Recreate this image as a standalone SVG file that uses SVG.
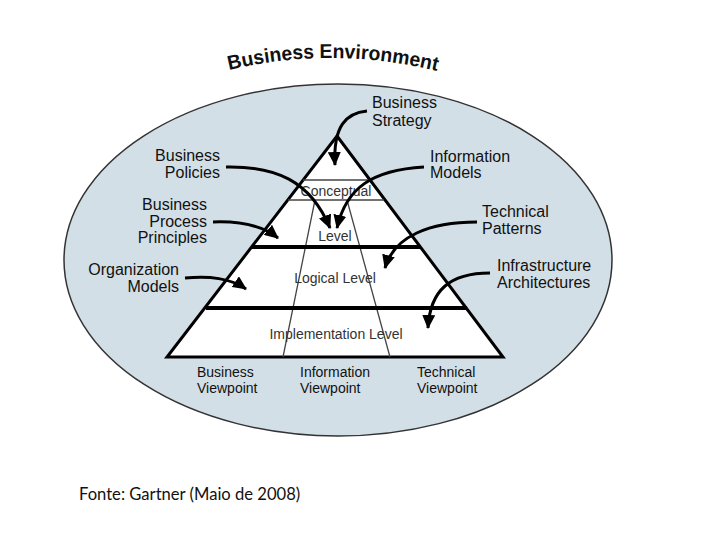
<svg xmlns="http://www.w3.org/2000/svg" width="720" height="540" viewBox="0 0 720 540">
<defs>
<style>
.lbl{font-family:"Liberation Sans",Arial,sans-serif;font-size:16px;fill:#111}
.lvl{font-family:"Liberation Sans",Arial,sans-serif;font-size:14px;fill:#333}
.vp{font-family:"Liberation Sans",Arial,sans-serif;font-size:14px;fill:#111}
.arr{fill:none;stroke:#000;stroke-width:3;marker-end:url(#ah)}
.thin{stroke:#444;stroke-width:1.3;fill:none}
.thick{stroke:#000;stroke-width:4;fill:none}
</style>
<marker id="ah" markerUnits="userSpaceOnUse" markerWidth="15" markerHeight="13" refX="13" refY="6.5" orient="auto">
<path d="M0,0 L14,6.5 L0,13 Z" fill="#000"/>
</marker>
<path id="arc" d="M 229,70 Q 333,45 441,72"/>
</defs>
<rect width="720" height="540" fill="#fff"/>
<g id="environment">
<ellipse cx="338" cy="260" rx="274" ry="176" fill="#d3dfe6" stroke="#333" stroke-width="1.5"/>
<text font-family="'Liberation Sans',Arial,sans-serif" font-size="20" font-weight="bold" fill="#111" textLength="210" lengthAdjust="spacingAndGlyphs"><textPath href="#arc">Business Environment</textPath></text>
</g>
<g id="pyramid">
<path d="M337,136 L503,357 L167,357 Z" fill="#fff" stroke="#000" stroke-width="3" stroke-linejoin="miter"/>
<line class="thin" x1="303" y1="180" x2="369" y2="180"/>
<line class="thin" x1="288" y1="200" x2="384" y2="200"/>
<line class="thin" x1="315" y1="200" x2="283" y2="357"/>
<line class="thin" x1="347" y1="200" x2="390" y2="357"/>
<line class="thick" x1="252" y1="247" x2="421" y2="247"/>
<line class="thick" x1="206" y1="308" x2="467" y2="308"/>
<text class="lvl" x="336" y="196" text-anchor="middle">Conceptual</text>
<text class="lvl" x="335" y="241" text-anchor="middle">Level</text>
<text class="lvl" x="335" y="283" text-anchor="middle">Logical Level</text>
<text class="lvl" x="336" y="339" text-anchor="middle">Implementation Level</text>
</g>
<g id="viewpoints">
<text class="vp" x="197" y="377">Business</text>
<text class="vp" x="197" y="393">Viewpoint</text>
<text class="vp" x="300" y="377">Information</text>
<text class="vp" x="300" y="393">Viewpoint</text>
<text class="vp" x="417" y="377">Technical</text>
<text class="vp" x="417" y="393">Viewpoint</text>
</g>
<g id="business-strategy">
<text class="lbl" x="372" y="108">Business</text>
<text class="lbl" x="372" y="126">Strategy</text>
</g>
<g id="business-policies">
<text class="lbl" x="220" y="161" text-anchor="end">Business</text>
<text class="lbl" x="220" y="178" text-anchor="end">Policies</text>
</g>
<g id="information-models">
<text class="lbl" x="430" y="162">Information</text>
<text class="lbl" x="430" y="178">Models</text>
</g>
<g id="business-process-principles">
<text class="lbl" x="207" y="210" text-anchor="end">Business</text>
<text class="lbl" x="207" y="227" text-anchor="end">Process</text>
<text class="lbl" x="207" y="243" text-anchor="end">Principles</text>
</g>
<g id="technical-patterns">
<text class="lbl" x="482" y="217">Technical</text>
<text class="lbl" x="482" y="234">Patterns</text>
</g>
<g id="organization-models">
<text class="lbl" x="179" y="275" text-anchor="end">Organization</text>
<text class="lbl" x="179" y="292" text-anchor="end">Models</text>
</g>
<g id="infrastructure-architectures">
<text class="lbl" x="497" y="271">Infrastructure</text>
<text class="lbl" x="497" y="288">Architectures</text>
</g>
<g id="connectors">
<path class="arr" d="M367,111 C346,113 333,126 335,165"/>
<path class="arr" d="M226,167 C275,166 310,180 330,228"/>
<path class="arr" d="M424,167 C372,170 346,188 337,228"/>
<path class="arr" d="M213,222 C240,221 262,225 278,238"/>
<path class="arr" d="M185,278 C210,276 230,278 246,289"/>
<path class="arr" d="M477,222 C430,222 394,236 385,268"/>
<path class="arr" d="M490,273 C450,273 430,290 428,328"/>
</g>
<g id="source">
<text x="79" y="500" font-family="Lato,'Open Sans',sans-serif" font-size="16.6" fill="#111">Fonte: Gartner (Maio de 2008)</text>
</g>
</svg>
